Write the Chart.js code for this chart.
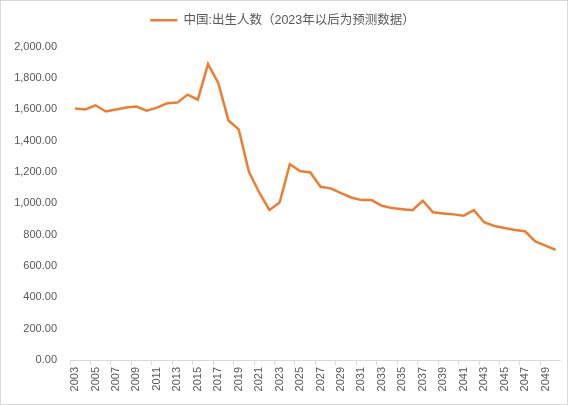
<!DOCTYPE html>
<html>
<head>
<meta charset="utf-8">
<script src="https://cdn.jsdelivr.net/npm/chart.js@4"></script>
<style>
  html, body { margin: 0; padding: 0; background: #fff; }
  #wrap { position: relative; width: 571px; height: 405px; }
  #frame { position: absolute; left: 0; top: 0; width: 568px; height: 405px; box-sizing: border-box; border: 1px solid #d9d9d9; pointer-events: none; }
</style>
</head>
<body>
<div id="wrap">
  <canvas id="chart" width="571" height="405"></canvas>
  <div id="frame"></div>
</div>
<script>
// 연도 (2003 ~ 2050)
const years = [];
for (let y = 2003; y <= 2050; y++) years.push(String(y));

// 출생인구 (만명), 그림에서 읽은 값
const births = [
  1604, 1598, 1625, 1585, 1598, 1611, 1617, 1591, 1610, 1638,
  1642, 1693, 1661, 1888, 1767, 1528, 1471, 1200, 1069, 957,
  1005, 1249, 1206, 1196, 1105, 1095, 1064, 1037, 1020, 1020,
  984, 969, 962, 956, 1016, 942, 935, 929, 921, 956,
  879, 855, 842, 829, 821, 757, 730, 703
];

const seriesName = '中国:出生人数（2023年以后为预测数据）';
const yTicks = [0, 200, 400, 600, 800, 1000, 1200, 1400, 1600, 1800, 2000];

const FONT = '"Liberation Sans", "Noto Sans CJK SC", sans-serif';
const GRAY = '#595959';

// 범례 아래 여백
const legendGap = {
  id: 'legendGap',
  beforeInit(chart) {
    const fit = chart.legend.fit;
    chart.legend.fit = function () {
      fit.call(this);
      this.height += 10;
    };
  }
};

new Chart(document.getElementById('chart'), {
  type: 'line',
  data: {
    labels: years,
    datasets: [{
      label: seriesName,
      data: births,
      borderColor: '#ed7d31',
      backgroundColor: '#ed7d31',
      borderWidth: 2.5,
      pointRadius: 0,
      tension: 0
    }]
  },
  options: {
    responsive: false,
    animation: false,
    layout: { padding: { left: 4, right: 10, top: 2, bottom: 0 } },
    plugins: {
      legend: {
        labels: {
          usePointStyle: true,
          pointStyle: 'line',
          pointStyleWidth: 27,
          boxHeight: 12,
          padding: 12,
          color: GRAY,
          font: { family: FONT, size: 12.5 }
        }
      },
      tooltip: { enabled: false }
    },
    scales: {
      x: {
        offset: true,
        grid: {
          offset: true,
          drawOnChartArea: false,
          drawTicks: true,
          tickLength: 5,
          color: ctx => (ctx.index % 2 === 0 ? '#d9d9d9' : 'rgba(0,0,0,0)')
        },
        border: { display: true, color: '#d9d9d9' },
        ticks: {
          autoSkip: false,
          minRotation: 90,
          maxRotation: 90,
          color: GRAY,
          padding: 2,
          font: { family: FONT, size: 11 },
          callback: function (v, i) { return i % 2 === 0 ? this.getLabelForValue(v) : ''; }
        },
        afterFit: s => { s.height = 45; }
      },
      y: {
        min: 0,
        max: 2000,
        afterBuildTicks: s => { s.ticks = yTicks.map(v => ({ value: v })); },
        grid: { display: false },
        border: { display: false },
        ticks: {
          color: GRAY,
          padding: 5,
          font: { family: FONT, size: 11 },
          callback: v => v.toLocaleString('en-US', { minimumFractionDigits: 2, maximumFractionDigits: 2 })
        },
        afterFit: s => { s.width = 66; }
      }
    }
  },
  plugins: [legendGap]
});
</script>
</body>
</html>
